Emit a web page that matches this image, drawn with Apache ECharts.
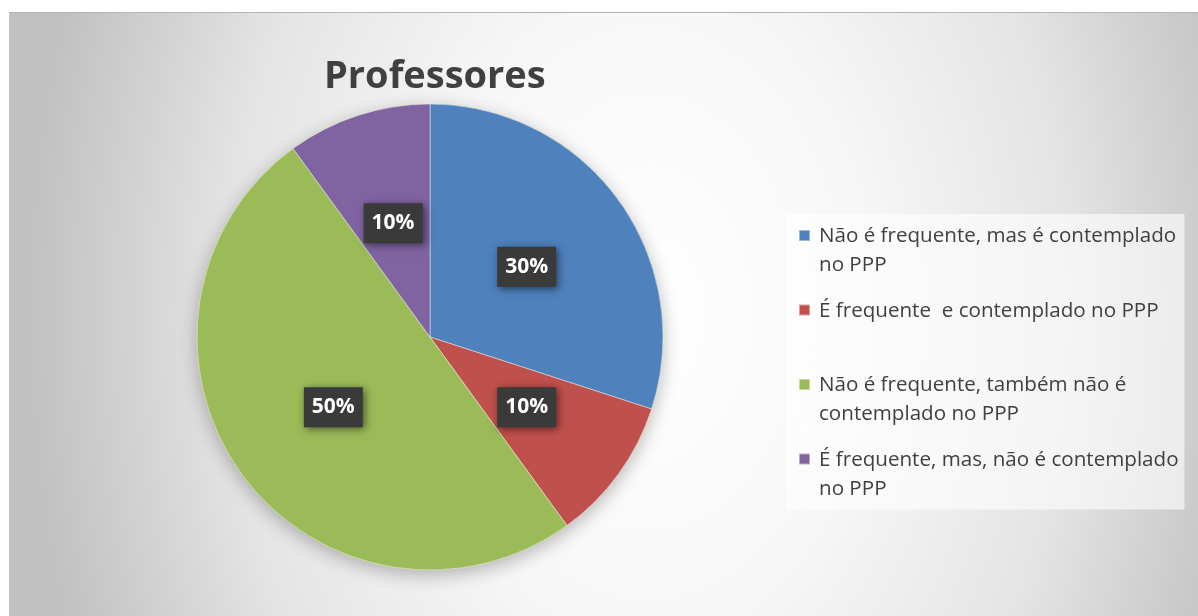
<!DOCTYPE html>
<html>
<head>
<meta charset="utf-8">
<script src="https://cdn.jsdelivr.net/npm/echarts@6/dist/echarts.min.js"></script>
<style>
  html, body { margin: 0; padding: 0; background: #ffffff; }
  #chart {
    position: absolute; left: 9px; top: 12px; width: 1189px; height: 604px;
    border-top: 1px solid #b4b4b4;
    background: radial-gradient(ellipse 620px 900px at 640px 300px,
      #ffffff 0%, #f7f7f7 35%, #e4e4e4 68%, #d1d1d1 85%, #c1c1c1 100%);
  }
</style>
</head>
<body>
<div id="chart"></div>
<script>
// categorias e valores (%)
const categories = [
    'Não é frequente, mas é contemplado no PPP',
    'É frequente e contemplado no PPP',
    'Não é frequente, também não é contemplado no PPP',
    'É frequente, mas, não é contemplado no PPP'
]
const values = [30, 10, 50, 10]
// quebras de linha da legenda
const legendLabels = [
    'Não é frequente, mas é contemplado\nno PPP',
    'É frequente  e contemplado no PPP\n\u00a0',
    'Não é frequente, também não é\ncontemplado no PPP',
    'É frequente, mas, não é contemplado\nno PPP'
]
const colors = ['#4f81bd', '#c0504d', '#9bbb59', '#8064a2']

const chart = echarts.init(document.getElementById('chart'))

const total = values.reduce((a, b) => a + b, 0)
const center = [421, 324]
const radius = 233

const option = {
    backgroundColor: 'transparent',
    animation: false,
    color: colors,
    title: {
        text: 'Professores',
        left: 315,
        top: 45,
        padding: 0,
        textStyle: {
            fontFamily: 'Open Sans',
            fontSize: 38,
            fontWeight: 'bold',
            color: '#404040',
        },
    },
    legend: {
        orient: 'vertical',
        left: 777,
        top: 201,
        padding: [7, 6, 5, 12],
        backgroundColor: 'rgba(255,255,255,0.6)',
        itemWidth: 15,
        itemHeight: 58,
        itemGap: 14.5,
        selectedMode: false,
        icon: 'path://M0,0h15v0.01h-15zM0,8h11v11h-11zM0,57.99h15v0.01h-15z',
        data: categories,
        formatter: (name) => legendLabels[categories.indexOf(name)],
        textStyle: {
            fontFamily: 'Open Sans',
            fontSize: 20.6,
            lineHeight: 29,
            color: '#404040',
        },
    },
    series: [
        {
            // sombra por baixo do gráfico
            type: 'pie',
            silent: true,
            center: center,
            radius: radius,
            z: 1,
            label: {show: false},
            labelLine: {show: false},
            itemStyle: {
                color: '#9bbb59',
                shadowBlur: 18,
                shadowOffsetY: 5,
                shadowColor: 'rgba(0,0,0,0.28)',
            },
            data: [{name: '', value: total}],
        },
        {
            type: 'pie',
            center: center,
            radius: radius,
            startAngle: 90,
            z: 2,
            itemStyle: {
                borderColor: 'rgba(255,255,255,0.45)',
                borderWidth: 1,
            },
            emphasis: {scale: false},
            label: {
                position: 'inside',
                formatter: '{d}%',
                color: '#ffffff',
                fontFamily: 'Open Sans',
                fontWeight: 'bold',
                fontSize: 21,
                lineHeight: 22,
                backgroundColor: '#3a3a3a',
                padding: [9, 8],
                shadowBlur: 8,
                shadowOffsetX: 2,
                shadowOffsetY: 2,
                shadowColor: 'rgba(0,0,0,0.55)',
            },
            labelLine: {show: false},
            data: categories.map((name, i) => ({name: name, value: values[i]})),
        },
    ],
}
chart.setOption(option)
</script>
</body>
</html>
